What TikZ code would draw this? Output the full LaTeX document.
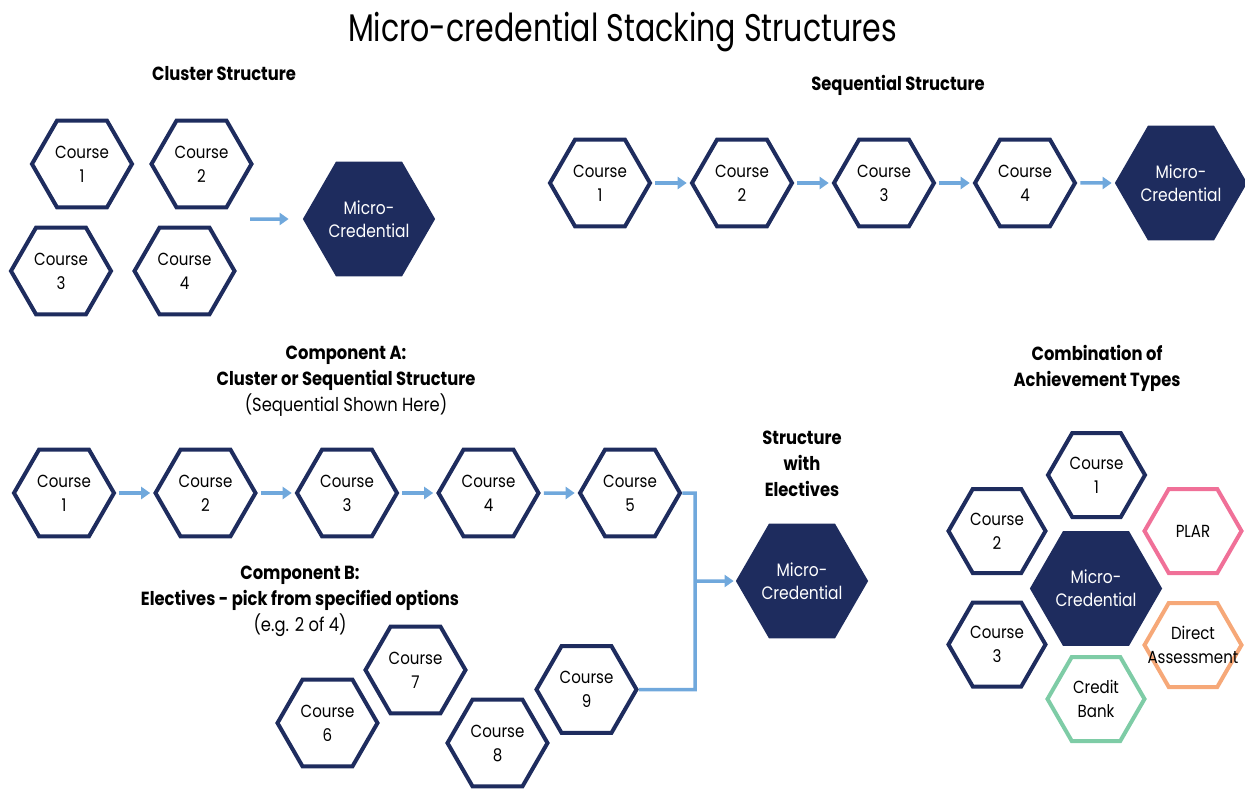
\documentclass[tikz,border=0pt]{standalone}
\usepackage{fontspec}
\setmainfont{Poppins}[FakeStretch=0.86]
\newfontfamily\ttlfont{Poppins}[FakeStretch=0.78]
\usetikzlibrary{shapes.geometric,arrows.meta}
\definecolor{navy}{RGB}{30,44,94}
\definecolor{lblue}{RGB}{112,168,220}
\definecolor{pinkc}{RGB}{240,112,152}
\definecolor{orangec}{RGB}{246,168,120}
\definecolor{greenc}{RGB}{126,204,166}
\tikzset{
  hexc/.style={regular polygon, regular polygon sides=6, minimum size=100pt, inner sep=0pt,
    draw=navy, line width=4pt, fill=white, align=center, font=\fontsize{17.5}{24}\selectfont},
  hexs/.style={hexc, minimum size=97pt},
  hexm/.style={regular polygon, regular polygon sides=6, minimum size=132pt, inner sep=0pt,
    fill=navy, draw=none, text=white, align=center, font=\fontsize{18}{23}\selectfont},
  conn/.style={draw=lblue, line width=3.5pt},
  arr/.style={conn, -{Triangle[length=9pt,width=12pt]}, shorten <=3pt, shorten >=3pt},
  head/.style={align=center, font=\bfseries\fontsize{19}{26}\selectfont},
}
\begin{document}
\begin{tikzpicture}[x=1pt,y=-1pt]
\useasboundingbox (0,0) rectangle (1245,789);
% title
\node[font=\ttlfont\fontsize{38.5}{38.5}\selectfont, anchor=base] (title) at (622.5,42) {Micro-credential Stacking Structures};

% cluster
\node[head] (hclu) at (224,74) {Cluster Structure};
\node[hexc] (c1) at (82,164) {Course\\1};
\node[hexc] (c2) at (201.5,164) {Course\\2};
\node[hexc] (c3) at (61,271) {Course\\3};
\node[hexc] (c4) at (184.5,271) {Course\\4};
\node[hexm] (cm) at (369,219) {Micro-\\Credential};
\coordinate (ca1) at (250,219);
\draw[arr, shorten <=0pt, shorten >=0pt] (ca1) -- ([xshift=-14pt]cm.west);

% sequential
\node[head] (hseq) at (898,85) {Sequential Structure};
\node[hexc] (s1) at (600,183) {Course\\1};
\node[hexc] (s2) at (742,183) {Course\\2};
\node[hexc] (s3) at (884,183) {Course\\3};
\node[hexc] (s4) at (1025,183) {Course\\4};
\node[hexm] (sm) at (1181,183) {Micro-\\Credential};
\draw[arr] (s1.east) -- (s2.west);
\draw[arr] (s2.east) -- (s3.west);
\draw[arr] (s3.east) -- (s4.west);
\draw[arr] (s4.east) -- (sm.west);

% component A
\node[head] (hca) at (346,381) {Component A:\\Cluster or Sequential Structure\\{\mdseries (Sequential Shown Here)}};
\node[hexc] (a1) at (64,493) {Course\\1};
\node[hexc] (a2) at (205.5,493) {Course\\2};
\node[hexc] (a3) at (347,493) {Course\\3};
\node[hexc] (a4) at (488.5,493) {Course\\4};
\node[hexc] (a5) at (630,493) {Course\\5};
\draw[arr] (a1.east) -- (a2.west);
\draw[arr] (a2.east) -- (a3.west);
\draw[arr] (a3.east) -- (a4.west);
\draw[arr] (a4.east) -- (a5.west);

% component B
\node[head] (hcb) at (300,601) {Component B:\\Electives - pick from specified options\\{\mdseries (e.g. 2 of 4)}};
\node[hexc] (e6) at (327.5,723) {Course\\6};
\node[hexc] (e7) at (415.5,670) {Course\\7};
\node[hexc] (e8) at (497.5,743) {Course\\8};
\node[hexc] (e9) at (586.5,689.5) {Course\\9};

% structure with electives
\node[head] (hsw) at (802,464) {Structure\\with\\Electives};
\node[hexm] (em) at (802,581) {Micro-\\Credential};
\coordinate (jtop) at (695,493);
\coordinate (jmid) at (695,581);
\coordinate (jbot) at (695,689.5);
\draw[conn] (a5.east) -- (jtop) -- (jbot) -- (e9.east);
\draw[arr, shorten <=0pt, shorten >=2pt] (jmid) -- (em.west);

% combination
\node[head] (hcomb) at (1097,368) {Combination of\\Achievement Types};
\node[hexs] (k1) at (1096.5,475) {Course\\1};
\node[hexs, draw=pinkc] (kp) at (1193,531) {PLAR};
\node[hexs] (k2) at (997,531) {Course\\2};
\node[hexm, minimum size=128pt] (km) at (1096,588.5) {Micro-\\Credential};
\node[hexs] (k3) at (997,644.5) {Course\\3};
\node[hexs, draw=orangec] (kd) at (1193,645) {Direct\\\makebox[0pt]{Assessment}};
\node[hexs, draw=greenc] (kb) at (1096,699) {Credit\\Bank};
\end{tikzpicture}
\end{document}
